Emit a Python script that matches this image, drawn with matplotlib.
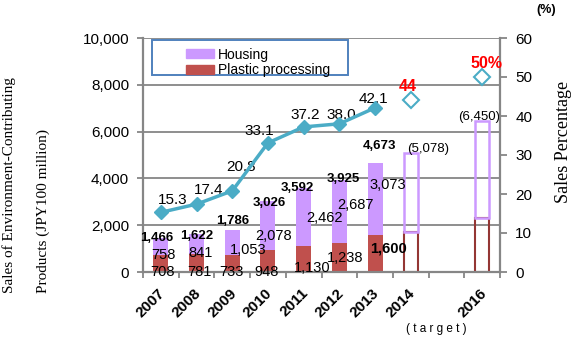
import numpy as np
import matplotlib
matplotlib.use("Agg")
import matplotlib.pyplot as plt
from matplotlib.patches import Rectangle, Patch
from matplotlib.ticker import FuncFormatter

# data
years = ["2007", "2008", "2009", "2010", "2011", "2012", "2013", "2014", "", "2016"]
plastic = [708, 781, 733, 948, 1130, 1238, 1600]
housing = [758, 841, 1053, 2078, 2462, 2687, 3073]
totals = [1466, 1622, 1786, 3026, 3592, 3925, 4673]
pct = [15.3, 17.4, 20.8, 33.1, 37.2, 38.0, 42.1]

target_idx = [7, 9]
target_plastic = [1700, 2300]
target_total = [5078, 6450]
target_pct = [44, 50]
target_pct_labels = ["44", "50%"]

PURPLE = "#CC99FF"
RED = "#C0504D"
DARKRED = "#943634"
TEAL = "#4BACC6"
GRID = "#868686"

plt.rcParams["font.family"] = ["Liberation Sans", "DejaVu Sans"]

fig = plt.figure(figsize=(5.76, 3.41), dpi=100)
W, H = 576, 341
ax = fig.add_axes([143 / W, 1 - 272 / H, (500 - 143) / W, (272 - 38) / H])

x = np.arange(len(plastic))
bw = 0.42
ax.bar(x, plastic, bw, color=RED, zorder=2)
ax.bar(x, housing, bw, bottom=plastic, color=PURPLE, zorder=2)

# target bars, outline only
tb = np.array(target_idx)
tp = np.array(target_plastic)
tt = np.array(target_total)
ax.bar(tb, tp, 0.39, fill=False, edgecolor=DARKRED, lw=1.5, zorder=2)
ax.bar(tb, tt - tp, 0.39, bottom=tp, fill=False, edgecolor=PURPLE, lw=1.8, zorder=2)

ax.set_xlim(-0.5, 9.5)
ax.set_ylim(0, 10000)
ax.set_yticks(np.arange(0, 10001, 2000))
ax.yaxis.set_major_formatter(FuncFormatter(lambda v, p: f"{int(v):,}"))
ax.yaxis.grid(True, color=GRID, lw=1.3)
ax.set_axisbelow(True)
ax.set_xticks(np.arange(-0.5, 10, 1))
ax.set_xticklabels([])
ax.tick_params(axis="x", length=4, width=1.3, color=GRID)
ax.tick_params(axis="y", length=4, width=1.3, color=GRID, labelsize=11, pad=6)
for s in ["top", "right"]:
    ax.spines[s].set_visible(False)
for s in ["left", "bottom"]:
    ax.spines[s].set_color(GRID)
    ax.spines[s].set_linewidth(1.6)

# year labels
for i, y in enumerate(years):
    if y:
        ax.annotate(y, xy=(i, 0), xycoords=("data", "axes fraction"),
                    xytext=(2, -19), textcoords="offset pixels", rotation=45,
                    ha="right", va="center", rotation_mode="anchor",
                    fontsize=11, fontweight="bold")
fig.text(436 / W, 1 - 329 / H, "( t a r g e t )", ha="center", va="center", fontsize=8.5)

# bar labels
tot_off = [(-4, 0), (0, -2), (0, 9), (1, -2), (-6, 0), (4, 1), (4, 17)]
hou_off = [(3, -8), (4, -9), (16, -7), (6, -10), (21, -1), (16, 7), (13, 14)]
pla_off = [(2, -8), (3, -9), (-1, -9), (-1, -11), (9, -9), (6, 0), (13, 5)]
for i in range(len(plastic)):
    ax.annotate(f"{totals[i]:,}", xy=(i, totals[i]), xytext=tot_off[i],
                textcoords="offset pixels", ha="center", va="center",
                fontsize=9.5, fontweight="bold", zorder=5)
    ax.annotate(f"{housing[i]:,}", xy=(i, plastic[i] + housing[i] / 2), xytext=hou_off[i],
                textcoords="offset pixels", ha="center", va="center",
                fontsize=10.5, zorder=5)
    ax.annotate(f"{plastic[i]:,}", xy=(i, plastic[i] / 2), xytext=pla_off[i],
                textcoords="offset pixels", ha="center", va="center",
                fontsize=10.5, fontweight="bold" if i == 6 else "normal", zorder=5)
for i, v, off in zip(target_idx, target_total, [(17, 4), (-3, 4)]):
    ax.annotate(f"({v:,})", xy=(i, v), xytext=off, textcoords="offset pixels",
                ha="center", va="center", fontsize=9.5)

# legend with its own box
box = Rectangle((152 / W, 1 - 75 / H), 196 / W, 35 / H, transform=fig.transFigure,
                facecolor="white", edgecolor="#4F81BD", lw=1.4, zorder=5, clip_on=False)
ax.add_artist(box)
handles = [Patch(color=PURPLE), Patch(color=RED)]
leg = ax.legend(handles, ["Housing", "Plastic processing"], loc="upper left",
                bbox_to_anchor=(176 / W, 1 - 38 / H), bbox_transform=fig.transFigure,
                frameon=False, fontsize=10, handlelength=2.0, handleheight=0.6,
                handletextpad=0.3, labelspacing=0.1, borderpad=0.2)
leg.set_zorder(6)

# percentage line on the right axis
ax2 = ax.twinx()
ax2.set_ylim(0, 60)
ax2.set_yticks(np.arange(0, 61, 10))
ax2.tick_params(axis="y", length=5, width=1.3, color=GRID, labelsize=11, pad=6)
for s in ["top", "left", "bottom"]:
    ax2.spines[s].set_visible(False)
ax2.spines["right"].set_color(GRID)
ax2.spines["right"].set_linewidth(1.6)
ax2.plot(x, pct, color=TEAL, lw=2.5, marker="D", markersize=7, zorder=4)
ax2.plot(target_idx, target_pct, ls="none", marker="D", markersize=8,
         markerfacecolor="white", markeredgecolor=TEAL, markeredgewidth=1.5)

pct_off = [(12, 12), (12, 14), (9, 24), (-9, 12), (2, 12), (2, 9), (-2, 9)]
for i, v in enumerate(pct):
    ax2.annotate(f"{v:.1f}", xy=(i, v), xytext=pct_off[i], textcoords="offset pixels",
                 ha="center", va="center", fontsize=11)
for i, v, lab, off in zip(target_idx, target_pct, target_pct_labels, [(-3, 14), (4, 14)]):
    ax2.annotate(lab, xy=(i, v), xytext=off, textcoords="offset pixels",
                 ha="center", va="center", fontsize=11.5, fontweight="bold", color="red")

# axis titles
serif = ["Liberation Serif", "DejaVu Serif"]
fig.text(9 / W, 1 - 293 / H, "Sales of Environment-Contributing", rotation=90,
         ha="center", va="bottom", fontsize=11, family=serif)
fig.text(43 / W, 1 - 293 / H, "Products (JPY100 million)", rotation=90,
         ha="center", va="bottom", fontsize=11, family=serif)
fig.text(563 / W, 1 - 142 / H, "Sales Percentage", rotation=90,
         ha="center", va="center", fontsize=13, family=serif)
fig.text(546 / W, 1 - 10 / H, "(%)", ha="center", va="center", fontsize=9, fontweight="bold")

fig.savefig("out.png", dpi=100)
